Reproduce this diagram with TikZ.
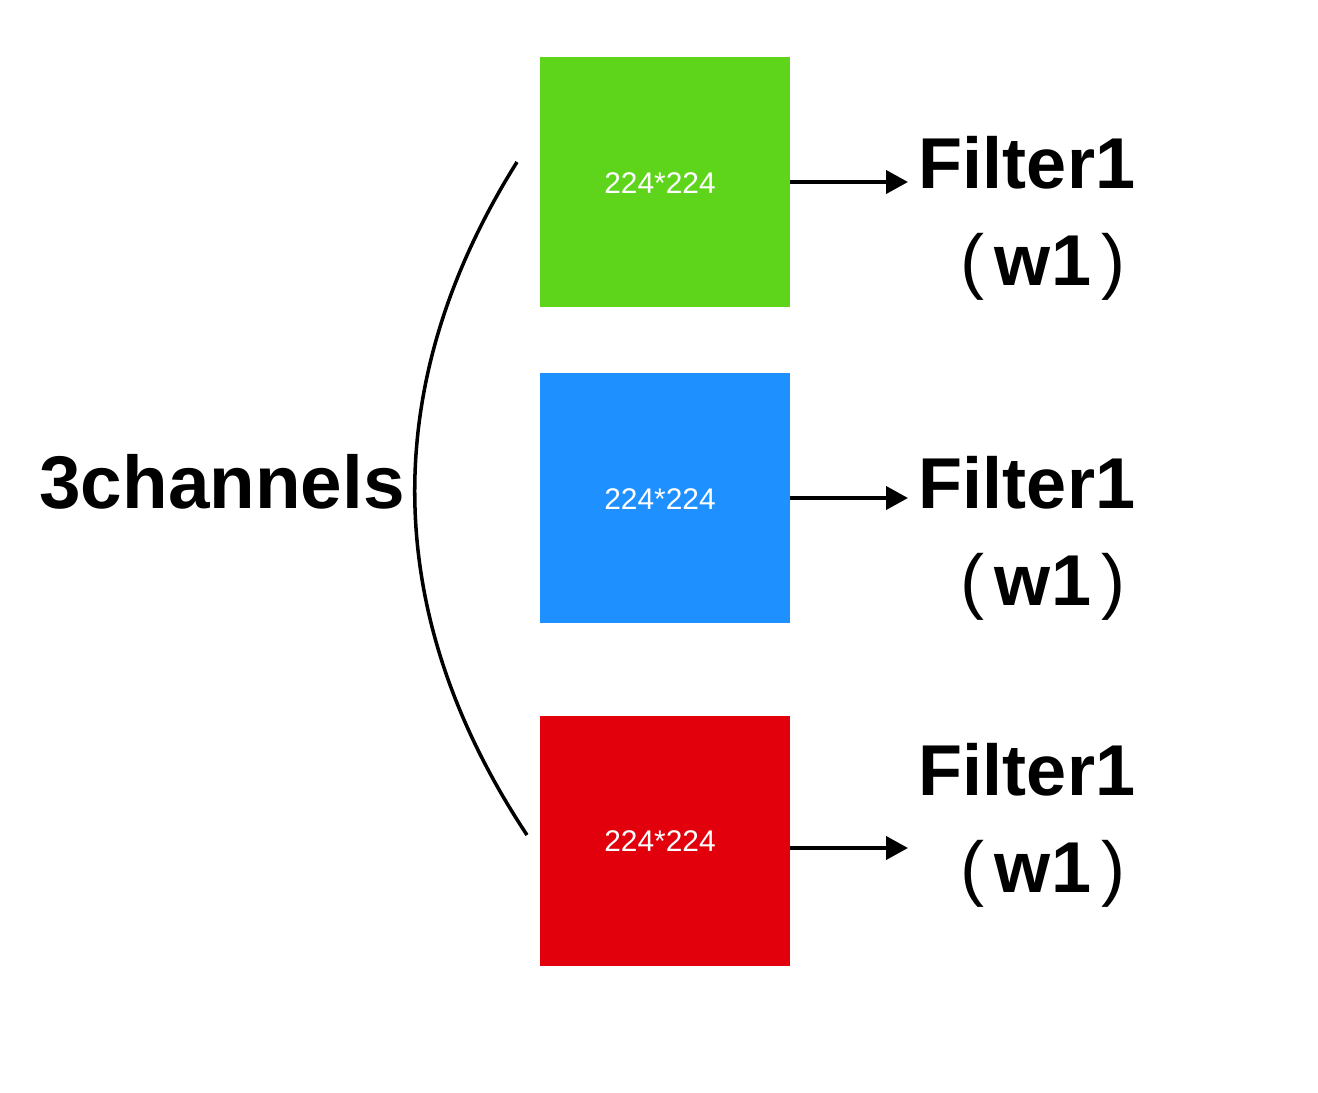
\documentclass[tikz,border=0pt]{standalone}
\usepackage{fontspec}
\setmainfont{Liberation Sans}
\usetikzlibrary{arrows.meta}
\definecolor{cgreen}{RGB}{94,213,26}
\definecolor{cblue}{RGB}{30,144,255}
\definecolor{cred}{RGB}{225,0,11}
\newcommand{\wone}{{\mdseries(}\hspace{0.14em}w1\hspace{0.14em}{\mdseries)}}
\begin{document}
\begin{tikzpicture}[x=0.02cm,y=-0.02cm,
  sq/.style={minimum width=5cm,minimum height=5cm,inner sep=0pt,draw=none},
  lbl/.style={text=white,font=\fontsize{17}{20}\selectfont,inner sep=0pt},
  big/.style={font=\fontsize{41}{48}\selectfont\bfseries,inner sep=0pt,anchor=base},
  arr/.style={line width=2.3pt,-{Triangle[length=0.44cm,width=0.46cm]}}]
\useasboundingbox (0,0) rectangle (1318,1092);
\node[sq,fill=cgreen] (g) at (665,182) {};
\node[sq,fill=cblue] (b) at (665,498) {};
\node[sq,fill=cred] (r) at (665,841) {};
\node[lbl] (tg) at (660,183) {224*224};
\node[lbl] (tb) at (660,499) {224*224};
\node[lbl] (tr) at (660,841) {224*224};
\node[big] (f1) at (1027,188) {Filter1};
\node[big] (w1) at (1043,285) {\wone};
\node[big] (f2) at (1027,508) {Filter1};
\node[big] (w2) at (1043,605) {\wone};
\node[big] (f3) at (1027,795) {Filter1};
\node[big] (w3) at (1043,892) {\wone};
\node[big,font=\fontsize{42.5}{48}\selectfont\bfseries] (ch) at (222,508) {3channels};
\coordinate (s1) at (790,182);
\coordinate (e1) at (908,182);
\coordinate (s2) at (790,498);
\coordinate (e2) at (908,498);
\coordinate (s3) at (790,848);
\coordinate (e3) at (908,848);
\draw[arr] (s1) -- (e1);
\draw[arr] (s2) -- (e2);
\draw[arr] (s3) -- (e3);
\coordinate (a0) at (517,162);
\coordinate (a1) at (527,835);
\draw[line width=2pt] (a0) .. controls (380,380) and (378,610) .. (a1);
\end{tikzpicture}
\end{document}
